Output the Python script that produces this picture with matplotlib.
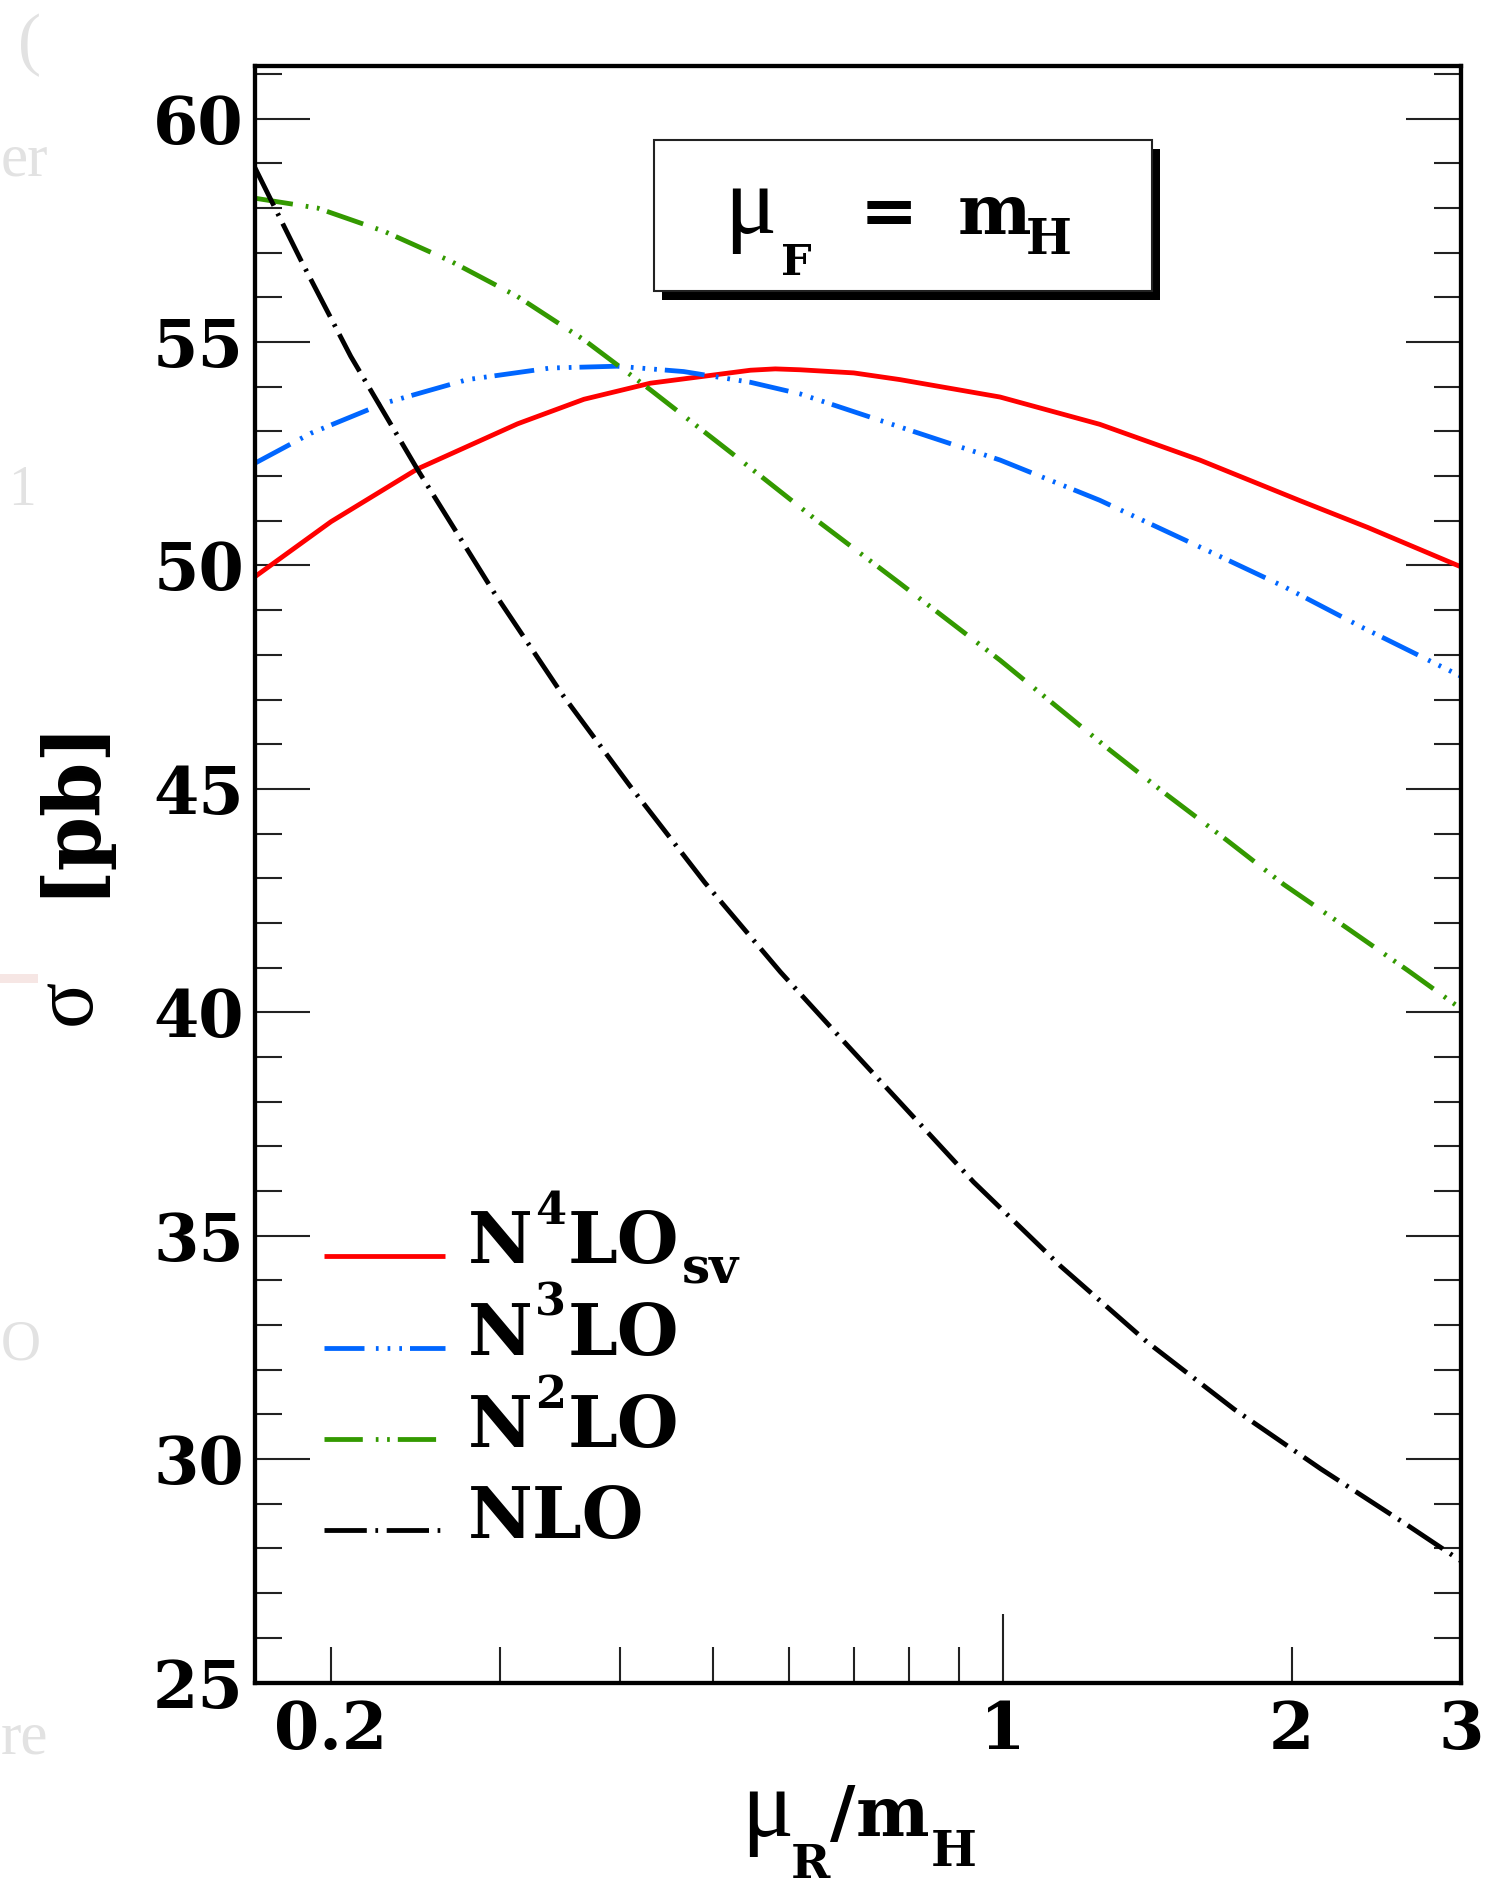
import matplotlib
matplotlib.use("Agg")
import matplotlib.pyplot as plt
from matplotlib.patches import Rectangle
from matplotlib.ticker import FixedLocator, FixedFormatter, NullFormatter, MultipleLocator

plt.rcParams["lines.scale_dashes"] = False

FIG_W, FIG_H, DPI = 1511, 1894, 100

# gg -> H cross section [pb] versus mu_R / m_H at fixed mu_F = m_H
mu_n4lo = [0.1667, 0.2, 0.246, 0.3127, 0.3667, 0.430, 0.5465, 0.58, 0.6157, 0.70,
           0.782, 0.994, 1.262, 1.604, 2.04, 2.4, 3.0]
xs_n4lo = [49.75, 50.98, 52.16, 53.17, 53.72, 54.08, 54.37, 54.40, 54.38, 54.31,
           54.16, 53.77, 53.16, 52.36, 51.45, 50.85, 49.97]

mu_n3lo = [0.1667, 0.1906, 0.2271, 0.2773, 0.3384, 0.3971, 0.4657, 0.5465,
           0.6157, 0.782, 0.994, 1.262, 1.632, 1.962, 2.36, 3.0]
xs_n3lo = [52.29, 52.96, 53.63, 54.16, 54.42, 54.46, 54.34, 54.10,
           53.84, 53.10, 52.36, 51.46, 50.34, 49.53, 48.63, 47.52]

mu_n2lo = [0.1667, 0.1936, 0.2271, 0.2665, 0.3127, 0.3667, 0.4301, 0.5249,
           0.6407, 0.782, 0.994, 1.293, 1.482, 1.712, 1.962, 2.285, 2.64, 3.0]
xs_n2lo = [58.22, 58.00, 57.48, 56.81, 56.02, 55.05, 53.93, 52.48,
           51.01, 49.60, 47.88, 45.87, 44.87, 43.85, 42.86, 41.88, 40.94, 40.08]

mu_nlo = [0.1667, 0.186, 0.2097, 0.2462, 0.2953, 0.3477, 0.409, 0.49, 0.5873,
          0.6833, 0.758, 0.933, 1.149, 1.414, 1.741, 2.144, 2.639, 3.0]
xs_nlo = [58.90, 56.84, 54.68, 52.14, 49.41, 47.13, 45.08, 42.90, 40.90,
          39.35, 38.30, 36.20, 34.32, 32.62, 31.12, 29.78, 28.52, 27.72]

y_major_ticks = [25, 30, 35, 40, 45, 50, 55, 60]
x_tick_values = [0.2, 1, 2, 3]
x_tick_labels = ["0.2", "1", "2", "3"]
x_minor_ticks = [0.3, 0.4, 0.5, 0.6, 0.7, 0.8, 0.9]

BOLD = dict(family="DejaVu Serif", weight="bold")
SERIF = dict(family="Liberation Serif")


def fx(px):
    return px / FIG_W


def fy(py):
    return 1.0 - py / FIG_H


def pt(px):
    return px * 72.0 / DPI


fig = plt.figure(figsize=(FIG_W / DPI, FIG_H / DPI), dpi=DPI)
fig.patch.set_facecolor("white")
renderer = fig.canvas.get_renderer()

ax_l, ax_r, ax_t, ax_b = 255, 1461, 66.4, 1682.5
ax = fig.add_axes([fx(ax_l), fy(ax_b), fx(ax_r - ax_l), (ax_b - ax_t) / FIG_H])

lw = pt(4.8)
styles = [
    dict(color="#ff0000", linestyle="-"),
    dict(color="#0066ff",
         linestyle=(0, (pt(40), pt(11.4), pt(2.7), pt(9), pt(2.7), pt(9), pt(2.7), pt(8)))),
    dict(color="#339900",
         linestyle=(0, (pt(38.3), pt(13), pt(2.7), pt(8.6), pt(2.7), pt(8)))),
    dict(color="#000000",
         linestyle=(0, (pt(42.3), pt(8.6), pt(2.7), pt(8.6)))),
]
series = [(mu_n4lo, xs_n4lo), (mu_n3lo, xs_n3lo), (mu_n2lo, xs_n2lo), (mu_nlo, xs_nlo)]

lines = []
for (mx, sy), st in zip(series, styles):
    ln, = ax.plot(mx, sy, lw=lw, solid_capstyle="butt", dash_capstyle="butt",
                  solid_joinstyle="round", dash_joinstyle="round", **st)
    lines.append(ln)

ax.set_xscale("log")
ax.set_xlim(0.1667, 3.0)
ax.set_ylim(25, 61.17)

# x axis: long tick at 1, short ticks elsewhere
ax.xaxis.set_major_locator(FixedLocator(x_tick_values))
ax.xaxis.set_major_formatter(FixedFormatter(x_tick_labels))
ax.xaxis.set_minor_locator(FixedLocator(x_minor_ticks))
ax.xaxis.set_minor_formatter(NullFormatter())
ax.tick_params(axis="x", which="major", direction="in", length=pt(69), width=1.5,
               color="#222222", top=False, pad=12)
ax.tick_params(axis="x", which="minor", direction="in", length=pt(36), width=1.5,
               color="#222222", top=False)
for tk, val in zip(ax.xaxis.get_major_ticks(), x_tick_values):
    if val != 1:
        tk.tick1line.set_markersize(pt(36))

# y axis: ticks on both sides
ax.yaxis.set_major_locator(FixedLocator(y_major_ticks))
ax.yaxis.set_minor_locator(MultipleLocator(1))
ax.tick_params(axis="y", which="major", direction="in", length=pt(55), width=1.5,
               color="#222222", left=True, right=True, pad=8)
ax.tick_params(axis="y", which="minor", direction="in", length=pt(27), width=1.5,
               color="#222222", left=True, right=True)

for lab in ax.get_xticklabels() + ax.get_yticklabels():
    lab.set_fontfamily("DejaVu Serif")
    lab.set_fontweight("bold")
    lab.set_fontsize(47)

for sp in ax.spines.values():
    sp.set_linewidth(3.1)
    sp.set_color("black")

# legend keys taken from the plotted curves; label text set separately
leg_fs = 40
leg = ax.legend(lines, ["", "", "", ""], loc="upper left",
                bbox_to_anchor=(fx(323.7), fy(1235.7)), bbox_transform=fig.transFigure,
                frameon=False, borderpad=0, borderaxespad=0, handletextpad=0,
                handlelength=120.8 / (leg_fs * DPI / 72), labelspacing=0.70,
                prop=dict(family="Liberation Mono", weight="bold", size=leg_fs))


def ftext(x, y, s, size, props, **kw):
    return fig.text(fx(x), fy(y), s, fontsize=size, ha=kw.pop("ha", "left"),
                    va=kw.pop("va", "baseline"), **props, **kw)


def run(x, base, pieces):
    """Set a row of text pieces one after another; each piece is
    (text, size, baseline shift, gap before)."""
    for s, size, dy, gap in pieces:
        x += gap
        t = ftext(x, base + dy, s, size, BOLD)
        x += t.get_window_extent(renderer).width


# legend labels
run(468, 1263, [("N", 51, 0, 0), ("4", 32, -39, 2), ("LO", 51, 0, 2), ("sv", 36, 20, 2)])
run(468, 1355, [("N", 51, 0, 0), ("3", 32, -39, 2), ("LO", 51, 0, 2)])
run(468, 1447, [("N", 51, 0, 0), ("2", 32, -39, 2), ("LO", 51, 0, 2)])
run(468, 1538, [("NLO", 51, 0, 0)])

# scale-choice box with drop shadow
bx0, by0, bx1, by1 = 653.8, 140, 1152, 290.7
fig.add_artist(Rectangle((fx(bx0 + 8), fy(by1 + 9)), fx(bx1 - bx0), (by1 - by0) / FIG_H,
                         transform=fig.transFigure, facecolor="black", edgecolor="none"))
fig.add_artist(Rectangle((fx(bx0), fy(by1)), fx(bx1 - bx0), (by1 - by0) / FIG_H,
                         transform=fig.transFigure, facecolor="white",
                         edgecolor="#222222", linewidth=1.5))
ftext(724, 233, "\u03bc", 70, SERIF)
ftext(781, 275, "F", 31, BOLD)
ftext(889, 214, "=", 50, BOLD, ha="center", va="center")
ftext(958, 234, "m", 50, BOLD)
ftext(1026, 254, "H", 35, BOLD)

# axis titles
ftext(741, 1836, "\u03bc", 70, SERIF)
ftext(791, 1878, "R", 34, BOLD)
run(830, 1836, [("/", 50, 0, 0), ("m", 50, 0, 0), ("H", 35, 30, 2)])

fig.text(fx(69), fy(806), "[pb]", fontsize=56, rotation=90, ha="center", va="center", **BOLD)
fig.text(fx(69), fy(1002), "\u03c3", fontsize=62, rotation=90, ha="center", va="center", **SERIF)

# faint fragments of neighbouring page text at the left margin
faint = "#e2e2e2"
ftext(18, 62, "(", 50, SERIF, color=faint)
ftext(1, 175, "er", 44, SERIF, color=faint)
ftext(8, 505, "1", 40, SERIF, color=faint)
ftext(1, 1359, "O", 40, SERIF, color=faint)
ftext(1, 1753, "re", 44, SERIF, color=faint)
fig.add_artist(Rectangle((0, fy(983)), fx(38), 9 / FIG_H, transform=fig.transFigure,
                         facecolor="#f6e6e4", edgecolor="none"))

fig.savefig("out.png", dpi=DPI, facecolor="white")
